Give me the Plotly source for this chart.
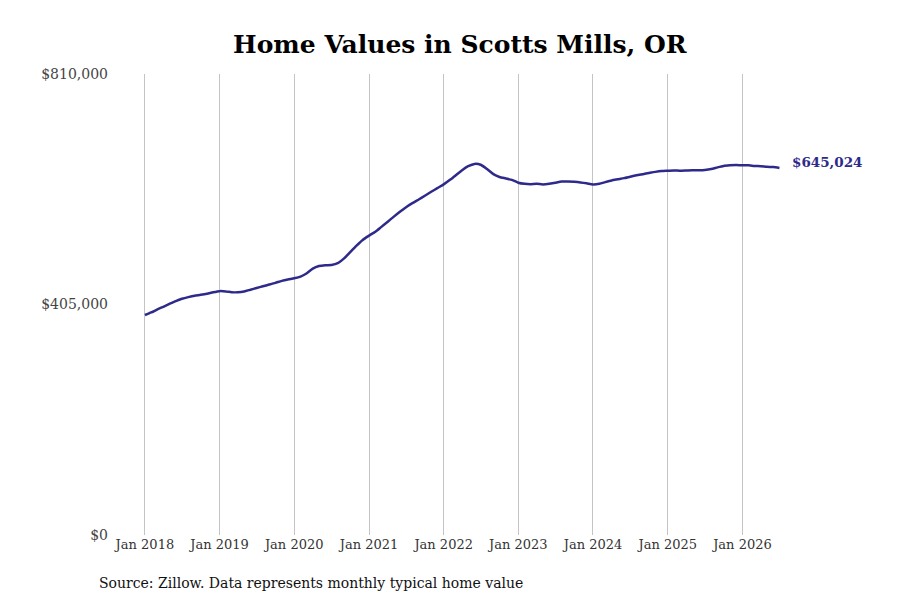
import pandas as pd
import plotly.graph_objects as go

# monthly typical home value, Jan 2018 .. Jul 2026 (thousands of $)
start_month = "2018-01-01"
home_values_k = [
    386.5, 391, 396, 401, 406, 411, 415, 418, 420.5, 422, 424, 426.5,  # 2018
    428.5, 428, 426.5, 426.5, 428, 431, 434, 437, 440, 443, 446.5, 449,  # 2019
    451, 454, 459.5, 468, 472.5, 474, 474.5, 477.5, 486, 497, 508.5, 518.5,  # 2020
    526, 533, 541, 550, 559, 568, 576, 583, 589.5, 596, 603, 609.5,  # 2021
    616, 624, 632, 641, 648, 652, 650.5, 643, 634, 629, 626.5, 624,  # 2022
    619, 617, 616.5, 617, 616, 617, 619, 621, 621, 620.5, 619.5, 618,  # 2023
    616, 617, 620, 623, 625, 627, 629.5, 632, 634, 636, 638, 639.5,  # 2024
    640, 640.5, 640, 640.5, 641, 641, 641.5, 643, 646, 648.5, 649.5, 650,  # 2025
    649.5, 649.5, 648.5, 648, 647, 646.5, 645.024,  # 2026
]
y_tick_vals = [0, 405000, 810000]
y_tick_text = ["$0", "$405,000", "$810,000"]

dates = pd.date_range(start_month, periods=len(home_values_k), freq="MS")
values = [v * 1000 for v in home_values_k]

line_color = "#2e2a8c"
serif = "DejaVu Serif"

fig = go.Figure()
fig.add_trace(
    go.Scatter(
        x=dates,
        y=values,
        mode="lines",
        line=dict(color=line_color, width=2.5, shape="spline", smoothing=0.6),
        showlegend=False,
    )
)

# end-of-line label
fig.add_annotation(
    x=dates[-1],
    y=values[-1],
    text=f"<b>${values[-1]:,.0f}</b>",
    showarrow=False,
    xanchor="left",
    xshift=11,
    yshift=6,
    font=dict(family=serif, size=13.5, color=line_color),
)

fig.add_annotation(
    x=0,
    xref="paper",
    xanchor="left",
    xshift=-16,
    y=-0.104,
    yref="paper",
    yanchor="middle",
    text="Source: Zillow. Data represents monthly typical home value",
    showarrow=False,
    font=dict(family=serif, size=14, color="#111111"),
)

fig.update_layout(
    width=900,
    height=600,
    paper_bgcolor="white",
    plot_bgcolor="white",
    margin=dict(l=105, r=113, t=66, b=73),
    title=dict(
        text="<b>Home Values in Scotts Mills, OR</b>",
        x=0.502,
        xanchor="center",
        xref="container",
        y=0.94,
        yanchor="middle",
        font=dict(family=serif, size=25, color="black"),
    ),
    font=dict(family=serif),
)
fig.update_xaxes(
    range=["2017-07-29", "2026-09-15"],
    tick0="2018-01-01",
    dtick="M12",
    tickformat="%b %Y",
    showgrid=True,
    gridcolor="#c4c4c4",
    gridwidth=1,
    showline=False,
    zeroline=False,
    tickfont=dict(family=serif, size=13, color="#333333"),
)
fig.update_yaxes(
    range=[0, 810000],
    tickvals=y_tick_vals,
    ticktext=y_tick_text,
    ticklabelstandoff=4,
    showgrid=False,
    zeroline=False,
    showline=False,
    tickfont=dict(family=serif, size=14, color="#444444"),
)

fig.write_html("out.html")
